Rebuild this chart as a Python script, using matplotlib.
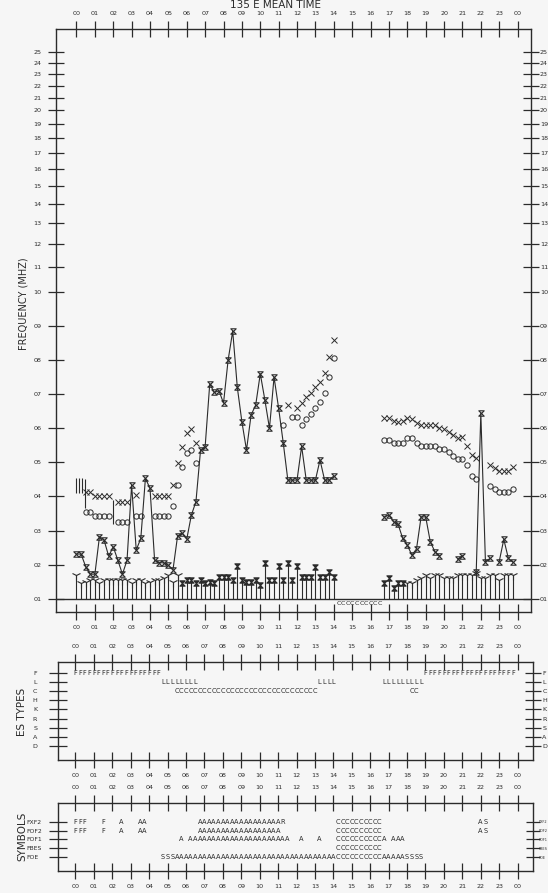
import numpy as np
import matplotlib
matplotlib.use('Agg')
import matplotlib.pyplot as plt
from matplotlib.path import Path

nan = np.nan
STEP = 0.25
hours = np.arange(96) * STEP

# ---------------- data ----------------
hour_labels = ['%02d' % (h % 24) for h in range(25)]
freq_ticks = list(range(1, 26))
freq_labels = ['%02d' % f for f in freq_ticks]

# foEs (hourglass markers joined by a line), 15-min values, nan = no value
foes = [2.31, 2.31, 1.94, 1.72, 1.72, 2.82, 2.72, 2.25, 2.52, 2.13, 1.72, 2.13,
        4.33, 2.43, 2.77, 4.53, 4.24, 2.13, 2.06, 2.05, 1.98, 1.85, 2.84, 2.92,
        2.75, 3.45, 3.85, 5.36, 5.46, 7.30, 7.05, 7.10, 6.74, 8.00, 8.85, 7.20,
        6.19, 5.36, 6.39, 6.68, 7.60, 6.83, 6.00, 7.50, 6.58, 5.57, 4.48, 4.48,
        4.48, 5.47, 4.48, 4.48, 4.48, 5.07, 4.48, 4.48, 4.60, nan, nan, nan,
        nan, nan, nan, nan, nan, nan, nan, 3.40, 3.45, 3.26, 3.18, 2.77,
        2.57, 2.28, 2.46, 3.40, 3.40, 2.67, 2.38, 2.26, nan, nan, nan, 2.16,
        2.26, nan, nan, 1.79, 6.44, 2.09, 2.18, nan, 2.09, 2.74, 2.18, 2.07]

# fxF2 (x markers) and foF2 (o markers): hour -> MHz
fxf2 = {0.5: 4.14, 0.75: 4.14, 1.0: 4.02, 1.25: 4.02, 1.5: 4.02, 1.75: 4.02,
        2.25: 3.84, 2.5: 3.84, 2.75: 3.84, 3.25: 4.05,
        4.25: 4.02, 4.5: 4.02, 4.75: 4.02, 5.0: 4.02,
        5.25: 4.33, 5.5: 4.97, 5.75: 5.46, 6.0: 5.85, 6.25: 5.97, 6.5: 5.56,
        11.5: 6.68, 12.0: 6.60, 12.25: 6.73, 12.5: 6.92, 12.75: 7.02, 13.0: 7.22,
        13.25: 7.36, 13.5: 7.61, 13.75: 8.10, 14.0: 8.58,
        16.75: 6.29, 17.0: 6.29, 17.25: 6.20, 17.5: 6.17, 17.75: 6.20, 18.0: 6.29,
        18.25: 6.27, 18.5: 6.15, 18.75: 6.09, 19.0: 6.09, 19.25: 6.09, 19.5: 6.09,
        19.75: 6.00, 20.0: 5.97, 20.25: 5.90, 20.5: 5.80, 20.75: 5.72, 21.0: 5.75,
        21.25: 5.49, 21.5: 5.21, 21.75: 5.12,
        22.5: 4.92, 22.75: 4.82, 23.0: 4.74, 23.25: 4.74, 23.5: 4.74, 23.75: 4.85}

fof2 = {0.5: 3.53, 0.75: 3.53, 1.0: 3.43, 1.25: 3.43, 1.5: 3.43, 1.75: 3.43,
        2.25: 3.24, 2.5: 3.24, 2.75: 3.24, 3.25: 3.43, 3.5: 3.43,
        4.25: 3.43, 4.5: 3.43, 4.75: 3.43, 5.0: 3.43,
        5.25: 3.72, 5.5: 4.33, 5.75: 4.87, 6.0: 5.27, 6.25: 5.36, 6.5: 4.97,
        11.25: 6.09, 11.75: 6.32, 12.0: 6.32, 12.25: 6.10, 12.5: 6.26, 12.75: 6.42,
        13.0: 6.58, 13.25: 6.78, 13.5: 7.02, 13.75: 7.49, 14.0: 8.05,
        16.75: 5.67, 17.0: 5.67, 17.25: 5.57, 17.5: 5.57, 17.75: 5.57, 18.0: 5.70,
        18.25: 5.70, 18.5: 5.57, 18.75: 5.49, 19.0: 5.49, 19.25: 5.49, 19.5: 5.49,
        19.75: 5.40, 20.0: 5.40, 20.25: 5.30, 20.5: 5.20, 20.75: 5.11, 21.0: 5.11,
        21.25: 4.91, 21.5: 4.60, 21.75: 4.50,
        22.5: 4.31, 22.75: 4.22, 23.0: 4.12, 23.25: 4.12, 23.5: 4.12, 23.75: 4.22}

# fmin spikes from the 1 MHz base line; kind Y = open Y mark, B = filled mark
fmin = [1.70, 1.45, 1.48, 1.55, 1.55, 1.45, 1.55, 1.55, 1.55, 1.55, 1.55, 1.55,
        1.45, 1.55, 1.55, 1.45, 1.48, 1.55, 1.55, 1.60, 1.70, 1.50, 1.70, 1.45,
        1.55, 1.55, 1.45, 1.55, 1.45, 1.50, 1.45, 1.65, 1.65, 1.65, 1.55, 1.95,
        1.55, 1.50, 1.50, 1.55, 1.40, 2.05, 1.55, 1.55, 1.95, 1.55, 2.05, 1.55,
        1.95, 1.65, 1.65, 1.65, 1.94, 1.65, 1.65, 1.77, 1.65, nan, nan, nan,
        nan, nan, nan, nan, nan, nan, nan, 1.45, 1.60, 1.30, 1.45, 1.45,
        1.45, 1.45, 1.55, 1.60, 1.70, 1.60, 1.70, 1.70, 1.60, 1.60, 1.60, 1.70,
        1.70, 1.70, 1.70, 1.75, 1.60, 1.60, 1.70, 1.70, 1.55, 1.70, 1.70, 1.70]
fmin_kind = 'Y' * 23 + 'B' * 34 + '-' * 10 + 'B' * 5 + 'Y' * 24

# spread-F range bars: hour, low, high
spread_h = [-0.05, 0.12, 0.28, 0.45, 2.0]
spread_lo = [4.10, 4.10, 4.10, 3.65, 3.20]
spread_hi = [4.55, 4.55, 4.55, 4.50, 3.90]

# letter codes under the base line (hour of first letter, letters)
main_codes = [(14.25, 'CCCCCCCCCC')]

es_rows = ['F', 'L', 'C', 'H', 'K', 'R', 'S', 'A', 'D']
es_codes = {'F': [(0.0, 'F' * 19), (19.0, 'F' * 20)],
            'L': [(4.75, 'L' * 8), (13.25, 'L' * 4), (16.75, 'L' * 9)],
            'C': [(5.5, 'C' * 31), (18.25, 'CC')]}

sym_rows = ['FXF2', 'FOF2', 'FOF1', 'FBES', 'FOE']
sym_codes = {'FXF2': [(0.0, 'FFF'), (1.5, 'F'), (2.5, 'A'), (3.5, 'AA'),
                      (6.75, 'A' * 18 + 'R'), (14.25, 'C' * 10), (22.0, 'AS')],
             'FOF2': [(0.0, 'FFF'), (1.5, 'F'), (2.5, 'A'), (3.5, 'AA'),
                      (6.75, 'A' * 18), (14.25, 'C' * 10), (22.0, 'AS')],
             'FOF1': [(5.75, 'A'), (6.25, 'A' * 22), (12.25, 'A'), (13.25, 'A'),
                      (14.25, 'C' * 10), (16.75, 'A'), (17.25, 'AAA')],
             'FBES': [(14.25, 'C' * 10)],
             'FOE': [(4.75, 'SSS' + 'A' * 35 + 'C' * 10 + 'A' * 5 + 'S' * 4)]}

# ---------------- style ----------------
INK = '#2b2b2b'
BG = '#f6f6f6'
plt.rcParams['font.family'] = ['DejaVu Sans']
W, H = 548, 893


def series(d):
    arr = np.full(96, nan)
    for h, v in d.items():
        arr[int(round(h / STEP))] = v
    return arr


K = 7.68


def fwd(f):
    f = np.asarray(f, dtype=float)
    return np.where(f <= 10, f, 10 + K * np.log(np.maximum(f, 10) / 10))


def inv(u):
    u = np.asarray(u, dtype=float)
    return np.where(u <= 10, u, 10 * np.exp((np.maximum(u, 10) - 10) / K))


fig = plt.figure(figsize=(W / 100, H / 100), dpi=100)
fig.patch.set_facecolor(BG)


def px_axes(l, t, r, b):
    ax = fig.add_axes([l / W, 1 - b / H, (r - l) / W, (b - t) / H])
    ax.set_facecolor(BG)
    for s in ax.spines.values():
        s.set_color(INK)
        s.set_linewidth(1.0)
    return ax


def hour_axis(ax, xlim):
    ax.set_xlim(*xlim)
    ax.set_xticks(range(25))
    ax.set_xticklabels(hour_labels)
    ax.tick_params(axis='x', direction='inout', length=11, width=0.9,
                   top=True, labeltop=True, bottom=True, labelbottom=True,
                   labelsize=4.6, pad=4.0, colors=INK)


def right_labels(ax, ticks, labels, pad, size=4.6, scale=None, length=11):
    ax2 = ax.twinx()
    if scale is not None:
        ax2.set_yscale('function', functions=scale)
    ax2.set_ylim(ax.get_ylim())
    ax2.set_yticks(ticks)
    ax2.set_yticklabels(labels)
    ax2.yaxis.set_minor_locator(matplotlib.ticker.NullLocator())
    ax2.tick_params(axis='y', direction='inout', length=length, width=0.9,
                    labelsize=size, pad=pad, colors=INK)
    for s in ax2.spines.values():
        s.set_visible(False)
    return ax2


hg = Path([(-1, 1), (1, 1), (-1, -1), (1, -1), (-1, 1)],
          [Path.MOVETO, Path.LINETO, Path.LINETO, Path.LINETO, Path.CLOSEPOLY])

# ---------------- main panel ----------------
ax = px_axes(56, 29, 531, 612)
hour_axis(ax, (-1.115, 24.73))
ax.set_yscale('function', functions=(fwd, inv))
ax.set_ylim(0.61, 27.3)
ax.set_yticks(freq_ticks)
ax.set_yticklabels(freq_labels)
ax.yaxis.set_minor_locator(matplotlib.ticker.NullLocator())
ax.tick_params(axis='y', direction='inout', length=11, width=0.9,
               labelsize=4.6, pad=5.0, colors=INK)
right_labels(ax, freq_ticks, freq_labels, pad=0.8, scale=(fwd, inv))

ax.axhline(1.0, color=INK, lw=1.0)

fmin_a = np.array(fmin)
ok = ~np.isnan(fmin_a)
ax.vlines(hours[ok], 1.0, fmin_a[ok], color=INK, lw=0.8)
kind = np.array(list(fmin_kind))
ax.plot(hours[kind == 'Y'], fmin_a[kind == 'Y'], ls='none', marker='1',
        ms=7, mew=0.8, color=INK)
ax.plot(hours[kind == 'B'], fmin_a[kind == 'B'], ls='none', marker=hg,
        ms=3.8, mew=0.8, color=INK, mfc=INK)

ax.plot(hours, foes, color=INK, lw=0.8, marker=hg, ms=3.9, mew=0.8,
        mfc='none', mec=INK)

ax.plot(hours, series(fxf2), ls='none', marker='x', ms=3.8, mew=0.7, color=INK)
ax.plot(hours, series(fof2), ls='none', marker='o', ms=3.8, mew=0.7,
        mfc='none', mec=INK)

ax.vlines(spread_h, spread_lo, spread_hi, color=INK, lw=0.8)

for h0, txt in main_codes:
    for k, ch in enumerate(txt):
        ax.text(h0 + k * STEP, 0.86, ch, ha='center', va='center',
                fontsize=4.6, color=INK)

fig.text(24 / W, 1 - 304 / H, 'FREQUENCY (MHZ)', rotation=90, ha='center',
         va='center', fontsize=7, color=INK)
fig.text(275 / W, 1 - 5 / H, '135 E MEAN TIME', ha='center', va='center',
         fontsize=7.5, color=INK)

# ---------------- ES types panel ----------------
ax_es = px_axes(58, 662, 533, 760)
hour_axis(ax_es, (-0.95, 24.84))
ax_es.set_ylim(-1.53, 9.2)
ypos = list(range(len(es_rows) - 1, -1, -1))
ax_es.set_yticks(ypos)
ax_es.set_yticklabels(es_rows)
ax_es.tick_params(axis='y', direction='inout', length=13, width=0.9,
                  labelsize=4.6, pad=8.5, colors=INK)
right_labels(ax_es, ypos, es_rows, pad=1.2)
for r, row in enumerate(es_rows):
    for h0, txt in es_codes.get(row, []):
        for k, ch in enumerate(txt):
            ax_es.text(h0 + k * STEP, ypos[r], ch, ha='center', va='center',
                       fontsize=4.8, color=INK)
fig.text(22 / W, 1 - 712 / H, 'ES TYPES', rotation=90, ha='center',
         va='center', fontsize=7.5, color=INK)

# ---------------- symbols panel ----------------
ax_s = px_axes(58, 803, 533, 871)
hour_axis(ax_s, (-0.95, 24.84))
ax_s.set_ylim(-1.54, 6.1)
spos = list(range(len(sym_rows) - 1, -1, -1))
ax_s.set_yticks(spos)
ax_s.set_yticklabels(sym_rows)
ax_s.tick_params(axis='y', direction='inout', length=13, width=0.9,
                 labelsize=4.4, pad=16.0, colors=INK)
for t in ax_s.get_yticklabels():
    t.set_horizontalalignment('left')
right_labels(ax_s, spos, sym_rows, pad=-1.2, size=2.5, length=10)
for r, row in enumerate(sym_rows):
    for h0, txt in sym_codes.get(row, []):
        for k, ch in enumerate(txt):
            ax_s.text(h0 + k * STEP, spos[r], ch, ha='center', va='center',
                      fontsize=4.8, color=INK)
fig.text(22 / W, 1 - 836 / H, 'SYMBOLS', rotation=90, ha='center',
         va='center', fontsize=7.5, color=INK)

fig.savefig('out.png', dpi=100, facecolor=BG)
